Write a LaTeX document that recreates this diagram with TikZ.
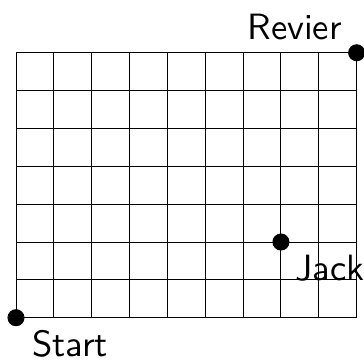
\documentclass[tikz,border=0pt]{standalone}
\usepackage{fontspec}
\newfontfamily\lmsansten{lmsans10-regular.otf}
\begin{document}
\begin{tikzpicture}[
  gridline/.style={line width=0.75pt, black},
  dot/.style={circle, fill=black, inner sep=0pt, minimum size=0.45cm},
  lbl/.style={inner sep=0pt, font=\lmsansten\fontsize{27.5}{32}\selectfont}
]
\useasboundingbox (-0.4227,-1.1176) rectangle (9.1941,8.3937);
\draw[gridline] (0,0) grid (9,7);
\node[dot] (start) at (0,0) {};
\node[dot] (jack) at (7,2) {};
\node[dot] (revier) at (9,7) {};
\node[lbl, anchor=base west] (startlbl) at (0.423,-1.025) {Start};
\node[lbl, anchor=base west] (jacklbl) at (7.371,0.970) {Jack};
\node[lbl, anchor=base east] (revierlbl) at (8.613,7.337) {Revier};
\end{tikzpicture}
\end{document}
